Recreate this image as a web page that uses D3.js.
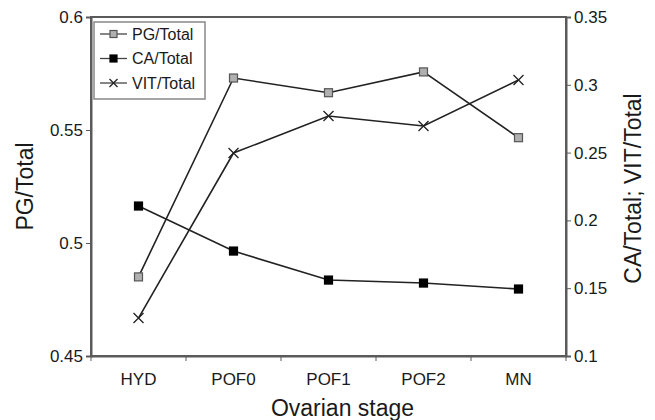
<!DOCTYPE html>
<html>
<head>
<meta charset="utf-8">
<script src="https://cdn.jsdelivr.net/npm/d3@7"></script>
<style>
  body { margin: 0; background: #fff; }
  text { font-family: "Liberation Sans", Arial, sans-serif; fill: #1a1a1a; }
</style>
</head>
<body>
<div id="chart"></div>
<script>
"use strict";
// Data
const stages = ["HYD", "POF0", "POF1", "POF2", "MN"];
const pgTotal = [0.485, 0.573, 0.5665, 0.5757, 0.5466];
const caTotal = [0.2106, 0.1774, 0.156, 0.1538, 0.1494];
const vitTotal = [0.128, 0.2497, 0.277, 0.2696, 0.3035];
const leftTicks = [0.45, 0.5, 0.55, 0.6];
const rightTicks = [0.1, 0.15, 0.2, 0.25, 0.3, 0.35];

let W = 655, H = 420;
let margin = { top: 17, right: 89, bottom: 64, left: 91 },
    width = W - margin.left - margin.right,
    height = H - margin.top - margin.bottom;

let svg = d3.select("#chart").append("svg")
    .attr("width", W).attr("height", H);
let g = svg.append("g")
    .attr("transform", "translate(" + margin.left + "," + margin.top + ")");

let x = d3.scaleBand().domain(stages).range([0, width]);
let yL = d3.scaleLinear().domain([0.45, 0.6]).range([height, 0]);
let yR = d3.scaleLinear().domain([0.1, 0.35]).range([height, 0]);

const axisColor = "#5a5a5a";

// frame
g.append("rect")
    .attr("width", width).attr("height", height)
    .attr("fill", "none").attr("stroke", axisColor).attr("stroke-width", 2);

// left axis
let left = g.append("g")
    .call(d3.axisLeft(yL).tickValues(leftTicks).tickSize(5).tickPadding(3)
        .tickFormat(d3.format("~g")));
// right axis
let right = g.append("g").attr("transform", "translate(" + width + ",0)")
    .call(d3.axisRight(yR).tickValues(rightTicks).tickSize(5).tickPadding(3)
        .tickFormat(d3.format("~g")));
// bottom axis: ticks at category boundaries
let bottom = g.append("g").attr("transform", "translate(0," + height + ")")
    .call(d3.axisBottom(x).tickSize(0).tickPadding(17));
bottom.selectAll(".tickb")
    .data(d3.range(stages.length + 1))
    .enter().append("line")
    .attr("x1", d => d * x.bandwidth()).attr("x2", d => d * x.bandwidth())
    .attr("y1", 0).attr("y2", 5)
    .attr("stroke", axisColor);

[left, right, bottom].forEach(a => {
    a.select(".domain").attr("stroke", axisColor).attr("stroke-width", 2);
    a.selectAll(".tick line").attr("stroke", axisColor);
    a.selectAll("text").style("font-size", "17px").attr("fill", "#1a1a1a");
});

// lines
let cx = d => x(d) + x.bandwidth() / 2;
let series = [
    { name: "PG/Total", values: pgTotal, y: yL, marker: "sq", fill: "#b0b0b0", stroke: "#555" },
    { name: "CA/Total", values: caTotal, y: yR, marker: "sq", fill: "#000", stroke: "#000" },
    { name: "VIT/Total", values: vitTotal, y: yR, marker: "x", fill: "none", stroke: "#222" }
];

let drawMarker = function (sel, s, px, py, size) {
    if (s.marker === "sq") {
        sel.append("rect")
            .attr("x", px - size / 2).attr("y", py - size / 2)
            .attr("width", size).attr("height", size)
            .attr("fill", s.fill).attr("stroke", s.stroke).attr("stroke-width", 1.2);
    } else {
        let r = size / 2;
        sel.append("path")
            .attr("d", "M" + (px - r) + "," + (py - r) + "L" + (px + r) + "," + (py + r) +
                "M" + (px - r) + "," + (py + r) + "L" + (px + r) + "," + (py - r))
            .attr("stroke", s.stroke).attr("stroke-width", 1.3).attr("fill", "none");
    }
};

series.forEach(s => {
    let line = d3.line().x((d, i) => cx(stages[i])).y(d => s.y(d));
    g.append("path").datum(s.values)
        .attr("d", line).attr("fill", "none")
        .attr("stroke", "#222").attr("stroke-width", 1.6);
    s.values.forEach((v, i) => drawMarker(g, s, cx(stages[i]), s.y(v), s.marker === "sq" ? 8 : 10));
});

// legend
let lg = g.append("g").attr("transform", "translate(3,5)");
lg.append("rect").attr("width", 111).attr("height", 77)
    .attr("fill", "#fff").attr("stroke", "#888").attr("stroke-width", 1.5);
series.forEach((s, i) => {
    let yy = 12 + i * 24.5;
    lg.append("line").attr("x1", 6).attr("x2", 33).attr("y1", yy).attr("y2", yy)
        .attr("stroke", "#444").attr("stroke-width", 1.3);
    drawMarker(lg, s, 19.5, yy, s.marker === "sq" ? 7 : 8);
    lg.append("text").attr("x", 38).attr("y", yy).attr("dy", "0.36em")
        .style("font-size", "16px").text(s.name);
});

// axis titles
svg.append("text")
    .attr("transform", "translate(33," + (margin.top + height / 2) + ") rotate(-90)")
    .attr("text-anchor", "middle").style("font-size", "23px").text("PG/Total");
svg.append("text")
    .attr("transform", "translate(641," + (margin.top + height / 2 + 2) + ") rotate(-90)")
    .attr("text-anchor", "middle").style("font-size", "23px").text("CA/Total; VIT/Total");
svg.append("text")
    .attr("x", margin.left + width / 2 + 14).attr("y", 416)
    .attr("text-anchor", "middle").style("font-size", "23px").text("Ovarian stage");
</script>
</body>
</html>
